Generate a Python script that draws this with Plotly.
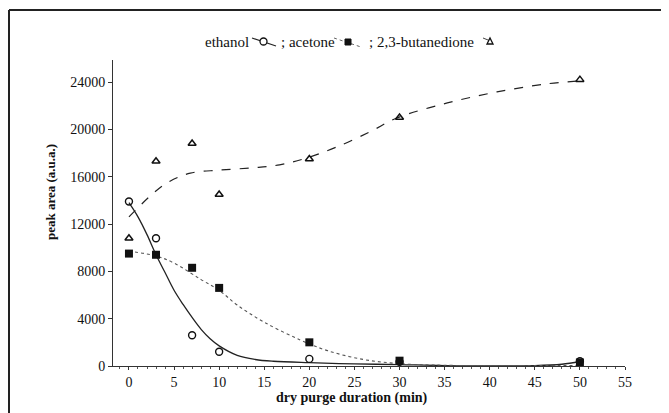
import plotly.graph_objects as go

# measured points
x_pts = [0, 3, 7, 10, 20, 30, 50]
ethanol = [13900, 10800, 2600, 1200, 600, 350, 400]
acetone = [9500, 9400, 8300, 6600, 2000, 450, 300]
butanedione = [10800, 17300, 18800, 14500, 17500, 21000, 24200]

# fitted curves
eth_fit_x = [0, 1, 2, 3, 4, 5, 6, 7, 8, 9, 10, 12, 14, 16, 20, 25, 30, 35, 45, 48, 50]
eth_fit_y = [13800, 12600, 11100, 9400, 7900, 6400, 5200, 4100, 3100, 2300, 1700, 900, 550, 400, 280, 180, 120, 40, 40, 150, 380]
ace_fit_x = [0, 3, 5, 8, 10, 12, 15, 19, 22, 26, 30, 35, 50]
ace_fit_y = [9700, 9300, 8700, 7300, 6400, 5150, 3700, 2200, 1300, 550, 200, 60, 50]
but_fit_x = [0, 2.7, 4.5, 6.8, 10, 13.7, 16.7, 19.7, 23, 26.7, 29.7, 35.3, 40.8, 46.3, 50]
but_fit_y = [12600, 14600, 15600, 16300, 16550, 16750, 17000, 17580, 18500, 19780, 20960, 22230, 23160, 23840, 24100]

x_ticks = [0, 5, 10, 15, 20, 25, 30, 35, 40, 45, 50, 55]
y_ticks = [0, 4000, 8000, 12000, 16000, 20000, 24000]
y_tick_labels = ["0", "4000", "8000", "12000", "16000", "20000", "24000"]

FONT = "Liberation Serif, Times New Roman, serif"
# page has an 8px body margin; figure occupies page (8,8)-(669,413)
OFF = 8
W, H = 669 - OFF, 413 - OFF
PL, PR, PT, PB = 113, 625, 60, 366  # plot area in page pixels
L, R, T, B = PL - OFF, W - (PR - OFF), PT - OFF, H - (PB - OFF)

def px(xp):
    return (xp - PL) / (PR - PL)

def py(yp):
    return (PB - yp) / (PB - PT)

fig = go.Figure()
fig.add_trace(go.Scatter(x=eth_fit_x, y=eth_fit_y, mode="lines", line=dict(color="#222", width=1.3, shape="spline"), showlegend=False))
fig.add_trace(go.Scatter(x=ace_fit_x, y=ace_fit_y, mode="lines", line=dict(color="#555", width=1.1, dash="dot", shape="spline"), showlegend=False))
fig.add_trace(go.Scatter(x=but_fit_x, y=but_fit_y, mode="lines", line=dict(color="#222", width=1.2, dash="dash", shape="spline"), showlegend=False))
fig.add_trace(go.Scatter(x=x_pts, y=ethanol, mode="markers", marker=dict(symbol="circle-open", size=7, color="#111", line=dict(width=1.4)), showlegend=False))
fig.add_trace(go.Scatter(x=x_pts, y=acetone, mode="markers", marker=dict(symbol="square", size=8, color="#111"), showlegend=False))
fig.add_trace(go.Scatter(x=x_pts, y=butanedione, mode="markers", marker=dict(symbol="triangle-up-open", size=7, color="#111", line=dict(width=1.5)), showlegend=False))

shapes = [
    dict(type="line", xref="paper", yref="paper", x0=px(9), x1=px(669), y0=py(10), y1=py(10), line=dict(color="#222", width=2)),
    dict(type="line", xref="paper", yref="paper", x0=px(9), x1=px(9), y0=py(10), y1=py(413), line=dict(color="#222", width=2)),
    # legend symbols
    dict(type="line", xref="paper", yref="paper", x0=px(252), x1=px(276), y0=py(38), y1=py(46), line=dict(color="#222", width=1.2)),
    dict(type="line", xref="paper", yref="paper", x0=px(334), x1=px(361), y0=py(38), y1=py(47), line=dict(color="#666", width=1, dash="dot")),
    dict(type="line", xref="paper", yref="paper", x0=px(483), x1=px(498), y0=py(38), y1=py(44), line=dict(color="#444", width=1, dash="dash")),
    dict(type="circle", xref="paper", yref="paper", x0=px(260), x1=px(267), y0=py(38), y1=py(45), fillcolor="white", line=dict(color="#111", width=1.3)),
    dict(type="rect", xref="paper", yref="paper", x0=px(345), x1=px(351), y0=py(39), y1=py(45), fillcolor="#111", line=dict(color="#111", width=1)),
    dict(type="path", xref="paper", yref="paper", path=f"M {px(487)} {py(44)} L {px(493)} {py(44)} L {px(490)} {py(38)} Z", fillcolor="white", line=dict(color="#111", width=1.3)),
]

ann = []
for txt, xpos in [("ethanol", 203), ("; acetone", 279), ("; 2,3-butanedione", 367)]:
    ann.append(dict(text=txt, xref="paper", yref="paper", x=px(xpos), y=py(42), xanchor="left", yanchor="middle",
                    showarrow=False, font=dict(family=FONT, size=15, color="#111")))
ann.append(dict(text="<b>peak area (a.u.a.)</b>", xref="paper", yref="paper", x=px(50), y=py(192), textangle=-90,
                xanchor="center", yanchor="middle", showarrow=False, font=dict(family=FONT, size=13, color="#111")))
ann.append(dict(text="<b>dry purge duration (min)</b>", xref="paper", yref="paper", x=px(352), y=py(398),
                xanchor="center", yanchor="middle", showarrow=False, font=dict(family=FONT, size=14, color="#111")))

fig.update_layout(
    width=W, height=H, margin=dict(l=L, r=R, t=T, b=B),
    paper_bgcolor="white", plot_bgcolor="white",
    font=dict(family=FONT, size=12, color="#111"),
    shapes=shapes, annotations=ann,
    xaxis=dict(range=[-1.77, 55], tickvals=x_ticks, showgrid=False, zeroline=False, showline=True, linecolor="#333", linewidth=1,
               ticks="outside", ticklen=3, tickcolor="#333", tickfont=dict(family=FONT, size=14),
               minor=dict(dtick=1, ticklen=2, tickcolor="#555", ticks="outside")),
    yaxis=dict(range=[0, 25860], tickvals=y_ticks, ticktext=y_tick_labels, showgrid=False, zeroline=False, showline=True, linecolor="#333", linewidth=1,
               ticks="outside", ticklen=4, tickcolor="#333", tickfont=dict(family=FONT, size=14)),
)

fig.write_html("out.html")
